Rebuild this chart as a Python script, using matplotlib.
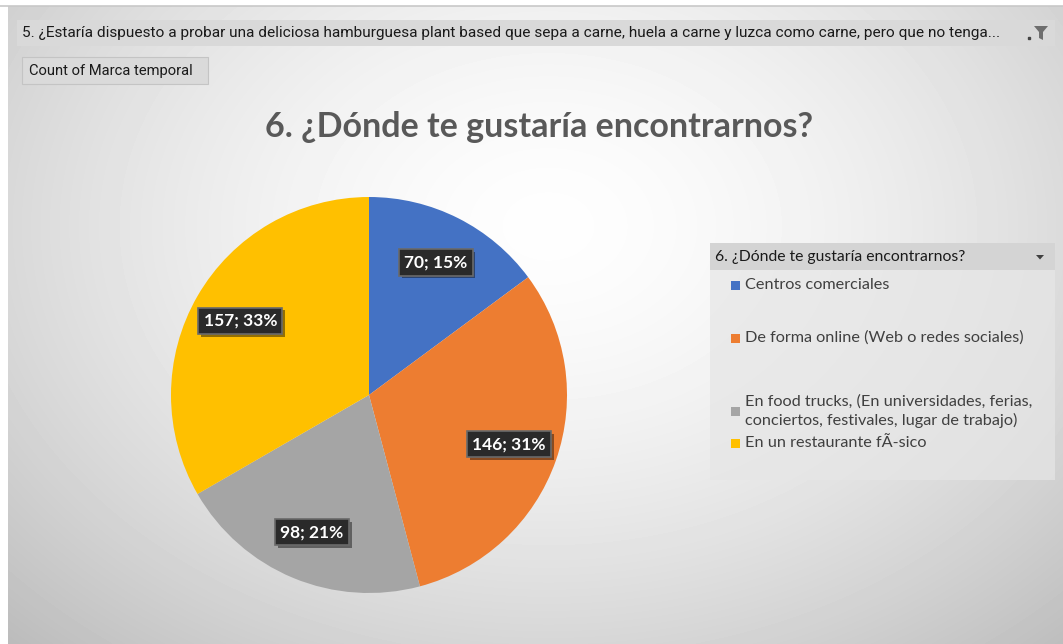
"""Pie chart of where respondents would like to find the brand."""

import matplotlib
matplotlib.use("Agg")
import matplotlib.pyplot as plt
import matplotlib.patheffects as pe
import numpy as np
from matplotlib.patches import Rectangle, Polygon

categories = [
    "Centros comerciales",
    "De forma online (Web o redes sociales)",
    "En food trucks, (En universidades, ferias,\nconciertos, festivales, lugar de trabajo)",
    "En un restaurante fÃ­sico",
]
counts = [70, 146, 98, 157]
colors = ["#4472C4", "#ED7D31", "#A5A5A5", "#FFC000"]

title = "6. ¿Dónde te gustaría encontrarnos?"
filter_text = ("5. ¿Estaría dispuesto a probar una deliciosa hamburguesa plant based que sepa a carne, "
               "huela a carne y luzca como carne, pero que no tenga...")
value_field = "Count of Marca temporal"

W, H = 1063, 644
fig = plt.figure(figsize=(W / 100, H / 100), dpi=100)
fig.patch.set_facecolor("white")

# background canvas in pixel coordinates
bg = fig.add_axes([0, 0, 1, 1])
bg.set_xlim(0, W)
bg.set_ylim(H, 0)
bg.axis("off")

# radial gradient of the chart area
yy, xx = np.mgrid[0:H - 6, 0:W - 8]
d = np.sqrt(((xx - 540) / 700.0) ** 2 + ((yy - 220) / 520.0) ** 2)
shade = 0.995 - 0.22 * np.clip(d, 0, 1.2) ** 1.6
bg.imshow(shade, cmap="gray", vmin=0, vmax=1, extent=[8, W, H, 6], aspect="auto", zorder=0)
bg.plot([0, W], [5.5, 5.5], color="#c8c8c8", lw=1.2, zorder=1)

sans = ["Lato", "DejaVu Sans"]
narrow = ["Liberation Sans Narrow", "Roboto", "DejaVu Sans"]

# report filter bar
bg.add_patch(Rectangle((17, 20), 1038, 26, fc="#d9d9d9", ec="none", zorder=2))
bg.text(22, 33, filter_text, fontsize=11.1, family=narrow, color="#1a1a1a", va="center", ha="left", zorder=3)
bg.add_patch(Polygon([[1034, 26], [1048, 26], [1043, 32], [1043, 40], [1039, 38], [1039, 32]],
                     closed=True, fc="#6e6e6e", ec="none", zorder=3))
bg.plot([1029], [37.5], marker="s", ms=1.6, color="#444444", zorder=3)

# value field button
bg.add_patch(Rectangle((22, 57), 186, 27, fc="#dadada", ec="#c4c4c4", lw=0.8, zorder=2))
bg.text(29, 71, value_field, fontsize=10.6, family=narrow, color="#1a1a1a", va="center", ha="left", zorder=3)

# chart title
bg.text(539, 127, title, fontsize=24.5, fontweight="bold", family=sans, color="#595959",
        ha="center", va="center", zorder=3)

# legend panel
lx, ly, lw_, lh = 710, 243, 345, 237
bg.add_patch(Rectangle((lx, ly), lw_, lh, fc="#e6e6e6", ec="none", alpha=0.7, zorder=2))
bg.add_patch(Rectangle((lx, ly), lw_, 27, fc="#d4d4d4", ec="none", zorder=2))
bg.text(715, 257, title, fontsize=11.3, family=sans, color="#1a1a1a", va="center", ha="left", zorder=3)
bg.add_patch(Polygon([[1036, 255], [1044, 255], [1040, 259.5]], closed=True, fc="#404040", ec="none", zorder=3))
entry_y = [285, 338, 411, 443]
for cat, col, ey in zip(categories, colors, entry_y):
    bg.add_patch(Rectangle((731, ey - 4.5), 9, 9, fc=col, ec="none", zorder=3))
    bg.text(745, ey, cat, fontsize=11.7, family=sans, color="#404040", va="center", ha="left",
            linespacing=1.35, zorder=3)

# pie
cx, cy, r = 369, 395, 198
ax = fig.add_axes([(cx - r) / W, (H - cy - r) / H, 2 * r / W, 2 * r / H])
wedges, _ = ax.pie(counts, colors=colors, startangle=90, counterclock=False,
                   wedgeprops=dict(linewidth=0))
ax.set_xlim(-1, 1)
ax.set_ylim(-1, 1)
ax.set_aspect("equal")

total = sum(counts)
for w, n in zip(wedges, counts):
    mid = np.deg2rad((w.theta1 + w.theta2) / 2)
    t = ax.text(0.75 * np.cos(mid), 0.75 * np.sin(mid), f"{n}; {round(100 * n / total)}%",
                fontsize=12.5, fontweight="bold", family=sans, color="white", ha="center", va="center",
                bbox=dict(boxstyle="square,pad=0.3", fc="#2a2a2a", ec="#6a6a6a", lw=1.2))
    t.get_bbox_patch().set_path_effects([pe.SimplePatchShadow(offset=(2, -2), alpha=0.45), pe.Normal()])

fig.savefig("out.png", dpi=100)
